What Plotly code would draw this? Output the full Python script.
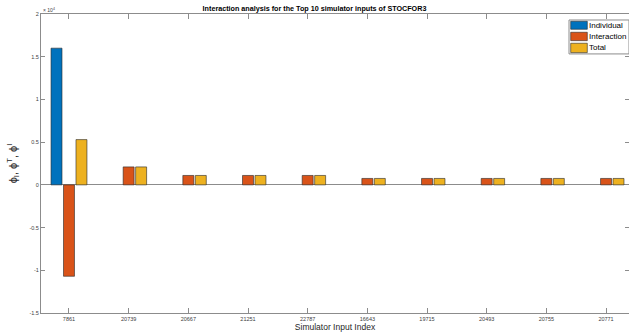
import plotly.graph_objects as go

# Top 10 simulator inputs (ordered by importance)
inputs = ["7861", "20739", "20667", "21251", "22787",
          "16643", "19715", "20493", "20755", "20771"]

# Sensitivity indices
individual = [16000, 0, 0, 0, 0, 0, 0, 0, 0, 0]
interaction = [-10700, 2100, 1100, 1100, 1100, 750, 750, 750, 750, 750]
total = [5300, 2100, 1100, 1100, 1100, 750, 750, 750, 750, 750]

y_ticks = [-15000, -10000, -5000, 0, 5000, 10000, 15000, 20000]
y_tick_text = ["-1.5", "-1", "-0.5", "0", "0.5", "1", "1.5", "2"]

series = [
    ("Individual", individual, "#0072BD"),
    ("Interaction", interaction, "#D95319"),
    ("Total", total, "#EDB120"),
]

edge = "rgba(40,40,40,0.75)"
fig = go.Figure()
for name, vals, color in series:
    # zero-height bars get no outline
    widths = [0.8 if v != 0 else 0 for v in vals]
    fig.add_trace(go.Bar(
        x=inputs, y=vals, name=name, showlegend=False,
        marker=dict(color=color, line=dict(color=edge, width=widths)),
    ))

axis_color = "#8c8c8c"
fig.update_layout(
    width=629, height=333,
    margin=dict(l=41, r=0, t=14, b=20),
    paper_bgcolor="white", plot_bgcolor="white",
    barmode="group", bargap=0.373, bargroupgap=0.12,
    font=dict(family="Liberation Sans, Arial, sans-serif", color="#262626"),
    title=dict(
        text="<b>Interaction analysis for the Top 10 simulator inputs of STOCFOR3</b>",
        x=0.5, xanchor="center", y=1 - 8 / 333, yanchor="middle",
        font=dict(size=7.2, color="#000000"),
    ),
)

fig.update_xaxes(
    type="category", range=[-0.469, 9.385],
    showline=True, linecolor=axis_color, linewidth=1, mirror="ticks",
    ticks="inside", ticklen=5, tickcolor=axis_color,
    tickfont=dict(size=5.5, color="#404040"),
    showgrid=False,
    title=dict(text="Simulator Input Index", font=dict(size=8.5, color="#262626"), standoff=3),
)
fig.update_yaxes(
    range=[-15000, 20000],
    tickvals=y_ticks, ticktext=y_tick_text,
    showline=True, linecolor=axis_color, linewidth=1, mirror="ticks",
    ticks="inside", ticklen=4, tickcolor=axis_color,
    tickfont=dict(size=5.5, color="#404040"),
    showgrid=False,
    zeroline=True, zerolinecolor=axis_color, zerolinewidth=1,
    title=dict(text="ϕ<sub>I</sub>, ϕ<sup>T</sup>, ϕ<sup>I</sup>",
               font=dict(size=11, color="#262626"), standoff=9),
)

# axis exponent
fig.add_annotation(
    text="× 10<sup>4</sup>", xref="paper", yref="paper",
    x=0, y=1, xanchor="left", yanchor="bottom", showarrow=False,
    font=dict(size=5, color="#404040"), yshift=-1,
)

# compact legend box, placed in figure pixels and converted to paper units
plot_left, plot_w = 41, 588
plot_bottom, plot_h = 313.5, 299.5


def fx(x):
    return (x - plot_left) / plot_w


def fy(y):
    return (plot_bottom - y) / plot_h


fig.add_shape(type="rect", xref="paper", yref="paper",
              x0=fx(569), x1=1.0, y0=fy(54), y1=fy(20),
              line=dict(color=axis_color, width=1), fillcolor="white", layer="above")

rows = [(21.3, 29.3), (32.3, 40.7), (43.3, 52.7)]
for (name, _, color), (top, bot) in zip(series, rows):
    fig.add_shape(type="rect", xref="paper", yref="paper",
                  x0=fx(570.7), x1=fx(587.3), y0=fy(bot), y1=fy(top),
                  line=dict(color=edge, width=0.8), fillcolor=color, layer="above")
    fig.add_annotation(text=name, xref="paper", yref="paper",
                       x=fx(587.8), y=fy((top + bot) / 2),
                       xanchor="left", yanchor="middle", showarrow=False,
                       borderpad=0, font=dict(size=8, color="#000000"))

fig.write_html("out.html")
